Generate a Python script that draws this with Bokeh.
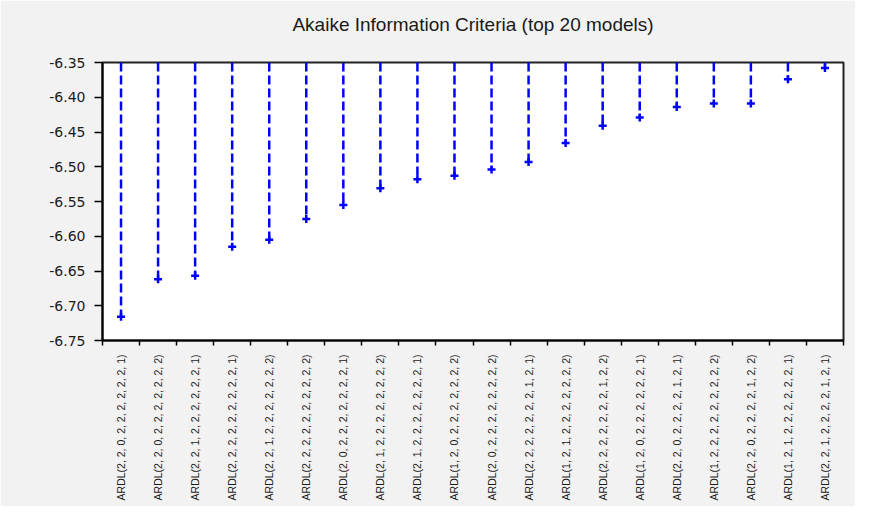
import math
from bokeh.plotting import figure
from bokeh.models import FixedTicker, Range1d, LinearAxis
from bokeh.embed import file_html
from bokeh.resources import INLINE

title_text = "Akaike Information Criteria (top 20 models)"

models = [
    "ARDL(2, 2, 0, 2, 2, 2, 2, 2, 2, 1)",
    "ARDL(2, 2, 0, 2, 2, 2, 2, 2, 2, 2)",
    "ARDL(2, 2, 1, 2, 2, 2, 2, 2, 2, 1)",
    "ARDL(2, 2, 2, 2, 2, 2, 2, 2, 2, 1)",
    "ARDL(2, 2, 1, 2, 2, 2, 2, 2, 2, 2)",
    "ARDL(2, 2, 2, 2, 2, 2, 2, 2, 2, 2)",
    "ARDL(2, 0, 2, 2, 2, 2, 2, 2, 2, 1)",
    "ARDL(2, 1, 2, 2, 2, 2, 2, 2, 2, 2)",
    "ARDL(2, 1, 2, 2, 2, 2, 2, 2, 2, 1)",
    "ARDL(1, 2, 0, 2, 2, 2, 2, 2, 2, 2)",
    "ARDL(2, 0, 2, 2, 2, 2, 2, 2, 2, 2)",
    "ARDL(2, 2, 2, 2, 2, 2, 2, 1, 2, 1)",
    "ARDL(1, 2, 1, 2, 2, 2, 2, 2, 2, 2)",
    "ARDL(2, 2, 2, 2, 2, 2, 2, 1, 2, 2)",
    "ARDL(1, 2, 0, 2, 2, 2, 2, 2, 2, 1)",
    "ARDL(2, 2, 0, 2, 2, 2, 2, 1, 2, 1)",
    "ARDL(1, 2, 2, 2, 2, 2, 2, 2, 2, 2)",
    "ARDL(2, 2, 0, 2, 2, 2, 2, 1, 2, 2)",
    "ARDL(1, 2, 1, 2, 2, 2, 2, 2, 2, 1)",
    "ARDL(2, 2, 1, 2, 2, 2, 2, 1, 2, 1)",
]

aic = [-6.716, -6.662, -6.657, -6.615, -6.605, -6.575, -6.555, -6.531,
       -6.518, -6.513, -6.504, -6.493, -6.466, -6.441, -6.429, -6.414,
       -6.409, -6.409, -6.374, -6.358]

y_ticks = [-6.75, -6.70, -6.65, -6.60, -6.55, -6.50, -6.45, -6.40, -6.35]
y_tick_labels = ["-6.75", "-6.70", "-6.65", "-6.60", "-6.55", "-6.50",
                 "-6.45", "-6.40", "-6.35"]

n = len(models)
xs = list(range(n))
y_min, y_max = y_ticks[0], y_ticks[-1]

p = figure(width=855, height=506, output_backend="svg", toolbar_location=None,
           x_range=Range1d(-0.5, n - 0.5), y_range=Range1d(y_min, y_max),
           x_axis_location=None, y_axis_location=None,
           min_border_left=102, min_border_right=12, min_border_top=62,
           min_border_bottom=166)

p.background_fill_color = "white"
p.border_fill_color = "#f2f2f2"
p.outline_line_color = "#222222"
p.outline_line_width = 2
p.xgrid.visible = False
p.ygrid.visible = False

p.title.text = title_text
p.title.align = "center"
p.title.text_font = "Liberation Sans"
p.title.text_font_size = "19px"
p.title.text_font_style = "normal"
p.title.text_color = "#1a1a1a"
if "padding" in p.title.properties():
    p.title.standoff = 0
    p.title.padding = dict(top=0, right=0, bottom=28, left=0)
else:
    p.title.standoff = 40

# stems from top of axis down to each value
p.segment(x0=xs, y0=[y_max] * n, x1=xs, y1=aic,
          line_color="#0000ff", line_width=2.5, line_dash="9 4")
p.scatter(x=xs, y=aic, marker="cross", size=8, line_color="#0000ff",
          line_width=2.5)

# y axis
yax = LinearAxis(ticker=FixedTicker(ticks=y_ticks, minor_ticks=[]))
yax.major_label_overrides = {t: l for t, l in zip(y_ticks, y_tick_labels)}
yax.axis_line_color = "black"
yax.axis_line_width = 2
yax.major_tick_line_color = "black"
yax.major_tick_line_width = 1.5
yax.major_tick_out = 8
yax.major_tick_in = 0
yax.minor_tick_line_color = None
yax.major_label_standoff = 9
yax.major_label_text_font = "DejaVu Sans"
yax.major_label_text_font_size = "14px"
yax.major_label_text_color = "#1a1a1a"
p.add_layout(yax, "left")

# x axis: labels at category centres, ticks at category boundaries
boundaries = [i - 0.5 for i in range(n + 1)]
xax = LinearAxis(ticker=FixedTicker(ticks=xs, minor_ticks=boundaries))
xax.major_label_overrides = {i: m for i, m in zip(xs, models)}
xax.major_label_orientation = math.pi / 2
xax.axis_line_color = "black"
xax.axis_line_width = 2
xax.major_tick_line_color = None
xax.major_tick_out = 0
xax.major_tick_in = 0
xax.minor_tick_line_color = "black"
xax.minor_tick_line_width = 1.5
xax.minor_tick_out = 5
xax.minor_tick_in = 0
xax.major_label_standoff = 9
xax.major_label_text_font = "Liberation Sans"
xax.major_label_text_font_size = "10.5px"
xax.major_label_text_color = "#1a1a1a"
p.add_layout(xax, "below")

open("out.html", "w").write(file_html(p, INLINE))
